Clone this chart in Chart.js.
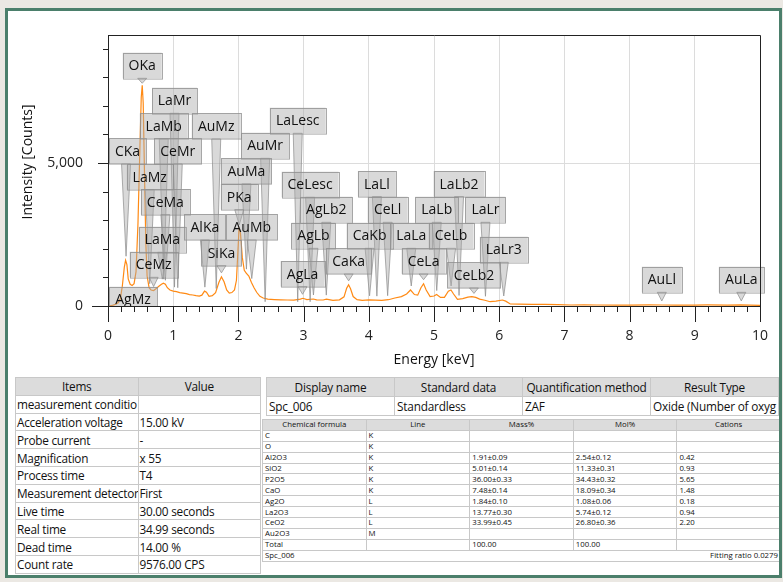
<!DOCTYPE html>
<html>
<head>
<meta charset="utf-8">
<script src="https://cdn.jsdelivr.net/npm/chart.js@4.4.1/dist/chart.umd.min.js"></script>
<style>
  html, body { margin: 0; padding: 0; background: #ebe8e3; }
  body { width: 783px; height: 582px; position: relative; overflow: hidden; font-family: "Open Sans", sans-serif; }
  #panel { position: absolute; left: 5px; top: 8px; width: 771px; height: 564px; border: 3px solid #4b7f6b; background: #fff; }
  #frame { position: absolute; left: 5px; top: 8px; width: 771px; height: 564px; border: 3px solid #4b7f6b; z-index: 5; }
  #chart { position: absolute; left: 0; top: 0; }
  .t { position: absolute; border-collapse: collapse; table-layout: fixed; color: #111; background: #fff; }
  .t td, .t th { border: 1px solid #c8c8c8; white-space: nowrap; overflow: hidden; padding: 0 2px; font-weight: normal; }
  .t th { background: #dcdcdc; }
  #info { left: 15px; top: 377px; width: 246px; font-size: 11.8px; letter-spacing: -0.25px; }
  #info td, #info th { height: 16.8px; line-height: 16px; padding: 0 1px; }
  #info th { text-align: center; }
  #head { left: 266px; top: 377px; width: 513px; font-size: 11.8px; letter-spacing: -0.2px; }
  #head td, #head th { height: 18px; line-height: 17px; }
  #quant { left: 262px; top: 419px; width: 519px; font-size: 7.8px; }
  #quant td, #quant th { height: 9.9px; line-height: 9px; }
  #quant th { text-align: center; }
</style>
</head>
<body>
<div id="panel"></div>
<canvas id="chart" width="783" height="372"></canvas>
<table class="t" id="info"></table>
<table class="t" id="head"></table>
<table class="t" id="quant"></table>
<div id="frame"></div>
<script>
// spectrum (keV, counts)
const energies = [0.00, 0.04, 0.08, 0.12, 0.16, 0.19, 0.22, 0.25, 0.27, 0.29, 0.31, 0.34, 0.37, 0.40, 0.43,
  0.46, 0.49, 0.51, 0.525, 0.54, 0.56, 0.58, 0.60, 0.63, 0.66, 0.70, 0.74, 0.78, 0.82, 0.85, 0.88, 0.91, 0.95,
  1.00, 1.05, 1.10, 1.15, 1.20, 1.25, 1.30, 1.35, 1.40, 1.44, 1.48, 1.51, 1.55, 1.60, 1.65, 1.70, 1.74, 1.78,
  1.82, 1.86, 1.90, 1.94, 1.97, 1.99, 2.01, 2.03, 2.06, 2.09, 2.12, 2.16, 2.20, 2.24, 2.28, 2.33, 2.38, 2.45,
  2.55, 2.65, 2.75, 2.85, 2.95, 2.99, 3.05, 3.15, 3.20, 3.30, 3.35, 3.45, 3.55, 3.62, 3.66, 3.69, 3.72, 3.76,
  3.82, 3.90, 4.00, 4.10, 4.20, 4.30, 4.40, 4.50, 4.58, 4.64, 4.70, 4.75, 4.80, 4.84, 4.88, 4.94, 5.00, 5.04,
  5.10, 5.16, 5.22, 5.26, 5.30, 5.36, 5.44, 5.52, 5.58, 5.64, 5.70, 5.78, 5.86, 5.95, 6.05, 6.10, 6.17, 6.30,
  6.50, 6.70, 6.90, 7.10, 7.30, 7.50, 7.80, 8.00, 8.30, 8.50, 8.70, 9.00, 9.20, 9.50, 9.70, 10.00];
const counts = [0, 10, 30, 60, 120, 260, 700, 1350, 1600, 1450, 950, 760, 720, 780, 1200,
  2900, 5600, 7300, 7720, 7100, 4600, 2200, 1050, 640, 560, 540, 610, 690, 760, 800, 760, 640, 560,
  520, 500, 470, 450, 430, 400, 385, 360, 345, 380, 520, 480, 340, 360, 470, 820, 1020, 850,
  560, 450, 470, 560, 900, 1800, 2700, 2600, 1700, 1250, 1150, 1050, 820, 640, 480, 340, 280, 240,
  225, 215, 210, 205, 240, 270, 225, 245, 215, 210, 240, 200, 215, 320, 620, 740, 600, 330,
  220, 200, 215, 205, 200, 220, 280, 330, 420, 560, 400, 380, 640, 780, 560, 330, 350, 400,
  300, 300, 520, 560, 420, 230, 260, 310, 330, 300, 240, 200, 150, 170, 210, 170, 70, 65,
  60, 55, 45, 35, 40, 35, 28, 30, 38, 35, 32, 30, 36, 30, 38, 25];

// identified lines (name, keV)
const lineNames = ['AgMz', 'CKa', 'OKa', 'LaMz', 'CeMz', 'LaMa', 'LaMb', 'CeMa', 'LaMr', 'CeMr',
  'AlKa', 'AuMz', 'SiKa', 'PKa', 'AuMa', 'AuMb', 'AuMr', 'LaLesc', 'AgLa', 'CeLesc',
  'AgLb', 'AgLb2', 'CaKa', 'CaKb', 'LaLl', 'CeLl', 'LaLa', 'CeLa', 'LaLb', 'CeLb',
  'LaLb2', 'CeLb2', 'LaLr', 'LaLr3', 'AuLl', 'AuLa'];
const lineEnergies = [0.31, 0.277, 0.525, 0.64, 0.70, 0.833, 0.855, 0.88, 1.02, 1.07,
  1.486, 1.66, 1.74, 2.013, 2.123, 2.205, 2.41, 2.91, 2.984, 3.10,
  3.151, 3.348, 3.691, 4.012, 4.124, 4.289, 4.651, 4.840, 5.042, 5.262,
  5.384, 5.613, 5.789, 6.07, 8.494, 9.713];

const xTicks = [0, 1, 2, 3, 4, 5, 6, 7, 8, 9, 10];
const yTicks = [0, 5000];

const infoItems = ['measurement conditio', 'Acceleration voltage', 'Probe current', 'Magnification', 'Process time',
  'Measurement detector', 'Live time', 'Real time', 'Dead time', 'Count rate'];
const infoValues = ['', '15.00 kV', '-', 'x 55', 'T4', 'First', '30.00 seconds', '34.99 seconds', '14.00 %', '9576.00 CPS'];

const headCols = ['Display name', 'Standard data', 'Quantification method', 'Result Type'];
const headVals = ['Spc_006', 'Standardless', 'ZAF', 'Oxide (Number of oxyg'];

const quantCols = ['Chemical formula', 'Line', 'Mass%', 'Mol%', 'Cations'];
const formulas = ['C', 'O', 'Al2O3', 'SiO2', 'P2O5', 'CaO', 'Ag2O', 'La2O3', 'CeO2', 'Au2O3', 'Total'];
const lines = ['K', 'K', 'K', 'K', 'K', 'K', 'L', 'L', 'L', 'M', ''];
const massPct = ['', '', '1.91±0.09', '5.01±0.14', '36.00±0.33', '7.48±0.14', '1.84±0.10', '13.77±0.30', '33.99±0.45', '', '100.00'];
const molPct = ['', '', '2.54±0.12', '11.33±0.31', '34.43±0.32', '18.09±0.34', '1.08±0.06', '5.74±0.12', '26.80±0.36', '', '100.00'];
const cations = ['', '', '0.42', '0.93', '5.65', '1.48', '0.18', '0.94', '2.20', '', ''];

// callout box tops, in counts
const calloutTops = [675, 5866, 8861, 4967, 1900, 2774, 6741, 4093, 7637, 5866,
  3208, 6741, 2309, 4268, 5167, 3208, 6062, 6937, 1574, 4698,
  2914, 3824, 2018, 2914, 4723, 3824, 2914, 2018, 3824, 2914,
  4723, 1528, 3824, 2424, 1375, 1375];

const FONT = '"Open Sans", sans-serif';

function countAt(e) {
  let best = 0, bd = 1e9;
  for (let i = 0; i < energies.length; i++) {
    const d = Math.abs(energies[i] - e);
    if (d <= 0.03 && counts[i] > best) best = counts[i];
    if (d < bd) { bd = d; if (best === 0) best = counts[i]; }
  }
  return best;
}

const spectrumDecor = {
  id: 'spectrumDecor',
  afterDatasetsDraw(chart) {
    const { ctx, chartArea: a, scales: { x, y } } = chart;
    ctx.save();
    ctx.beginPath();
    ctx.rect(a.left, 0, chart.width - a.left, a.bottom);
    ctx.clip();
    ctx.font = '14px ' + FONT;
    const boxH = 25.6;
    const boxes = lineNames.map((name, i) => {
      const px = x.getPixelForValue(lineEnergies[i]);
      const w = Math.round(ctx.measureText(name).width) + 12;
      let left = px - w / 2;
      if (left < a.left + 1) left = a.left + 1;
      const top = y.getPixelForValue(calloutTops[i]);
      let tip = y.getPixelForValue(countAt(lineEnergies[i])) - 4;
      if (tip < top + boxH + 5) tip = top + boxH + 5;
      return { name, px, left, w, top, tip };
    });
    // pointers
    boxes.forEach(b => {
      ctx.beginPath();
      ctx.moveTo(b.px - 4.5, b.top + boxH);
      ctx.lineTo(b.px + 4.5, b.top + boxH);
      ctx.lineTo(b.px, b.tip);
      ctx.closePath();
      ctx.fillStyle = 'rgba(170,170,170,0.45)';
      ctx.fill();
      ctx.strokeStyle = 'rgba(140,140,140,0.7)';
      ctx.lineWidth = 1;
      ctx.stroke();
    });
    boxes.forEach(b => {
      ctx.fillStyle = 'rgba(170,170,170,0.45)';
      ctx.fillRect(b.left, b.top, b.w, boxH);
      ctx.strokeStyle = 'rgba(140,140,140,0.75)';
      ctx.strokeRect(Math.round(b.left) + 0.5, Math.round(b.top) + 0.5, b.w, boxH);
    });
    ctx.fillStyle = '#111';
    ctx.textAlign = 'center';
    ctx.textBaseline = 'middle';
    boxes.forEach(b => ctx.fillText(b.name, b.left + b.w / 2, b.top + boxH / 2 + 1));
    ctx.restore();
  },
  afterDraw(chart) {
    const { ctx, chartArea: a, scales: { x, y } } = chart;
    ctx.save();
    ctx.strokeStyle = '#222';
    ctx.lineWidth = 1;
    ctx.beginPath();
    // frame
    ctx.moveTo(a.left - 16, a.bottom + 0.5); ctx.lineTo(a.right, a.bottom + 0.5);
    ctx.moveTo(a.left + 0.5, a.top); ctx.lineTo(a.left + 0.5, a.bottom + 16);
    ctx.moveTo(a.left, a.top + 0.5); ctx.lineTo(a.right + 0.5, a.top + 0.5);
    ctx.lineTo(a.right + 0.5, a.bottom + 1);
    // x ticks
    for (let i = 1; i <= 50; i++) {
      const px = Math.round(x.getPixelForValue(i / 5)) + 0.5;
      const len = i % 5 === 0 ? 16 : 6;
      ctx.moveTo(px, a.bottom); ctx.lineTo(px, a.bottom + len);
    }
    // y ticks
    for (let v = 1000; v <= 9000; v += 1000) {
      const py = Math.round(y.getPixelForValue(v)) + 0.5;
      const len = v % 5000 === 0 ? 10 : 5;
      ctx.moveTo(a.left - len, py); ctx.lineTo(a.left, py);
    }
    ctx.stroke();
    // axis titles
    ctx.fillStyle = '#111';
    ctx.font = '14px ' + FONT;
    ctx.textAlign = 'center';
    ctx.textBaseline = 'middle';
    ctx.fillText('Energy [keV]', (a.left + a.right) / 2, 360);
    ctx.translate(28, 162);
    ctx.rotate(-Math.PI / 2);
    ctx.fillText('Intensity [Counts]', 0, 0);
    ctx.restore();
  }
};

new Chart(document.getElementById('chart'), {
  type: 'line',
  data: {
    datasets: [{
      data: energies.map((e, i) => ({ x: e, y: counts[i] })),
      borderColor: '#ff8a14',
      borderWidth: 1.2,
      pointRadius: 0,
      tension: 0,
      fill: false
    }]
  },
  options: {
    responsive: false,
    devicePixelRatio: 1,
    animation: false,
    layout: { padding: { top: 35, right: 23, left: 0, bottom: 0 } },
    plugins: { legend: { display: false }, tooltip: { enabled: false } },
    scales: {
      x: {
        type: 'linear', min: 0, max: 10,
        afterFit: s => { s.height = 66; s.paddingLeft = 0; s.paddingRight = 0; },
        afterBuildTicks: s => { s.ticks = xTicks.map(v => ({ value: v })); },
        ticks: { font: { size: 14, family: FONT }, color: '#222', padding: 22, maxRotation: 0 },
        grid: {
          drawTicks: false,
          color: c => (c.tick && c.tick.value > 0 && c.tick.value < 10) ? '#dcdcdc' : 'transparent'
        },
        border: { display: false }
      },
      y: {
        type: 'linear', min: 0, max: 9480,
        afterFit: s => { s.width = 108; s.paddingTop = 0; s.paddingBottom = 0; },
        afterBuildTicks: s => { s.ticks = yTicks.map(v => ({ value: v })); },
        ticks: { font: { size: 14, family: FONT }, color: '#222', padding: 25 },
        grid: {
          drawTicks: false,
          color: c => (c.tick && c.tick.value === 5000) ? '#dcdcdc' : 'transparent'
        },
        border: { display: false }
      }
    }
  },
  plugins: [spectrumDecor]
});

// tables
function fill(id, header, rows, extra) {
  const t = document.getElementById(id);
  let h = '<tr>' + header.map(c => '<th>' + c + '</th>').join('') + '</tr>';
  rows.forEach(r => { h += '<tr>' + r.map(c => '<td>' + c + '</td>').join('') + '</tr>'; });
  if (extra) h += extra;
  t.innerHTML = h;
}
fill('info', ['Items', 'Value'], infoItems.map((v, i) => [v, infoValues[i]]));
fill('head', headCols, [headVals]);
fill('quant', quantCols, formulas.map((f, i) => [f, lines[i], massPct[i], molPct[i], cations[i]]),
  '<tr><td colspan="5"><span>Spc_006</span><span style="float:right">Fitting ratio 0.0279</span></td></tr>');
</script>
</body>
</html>
